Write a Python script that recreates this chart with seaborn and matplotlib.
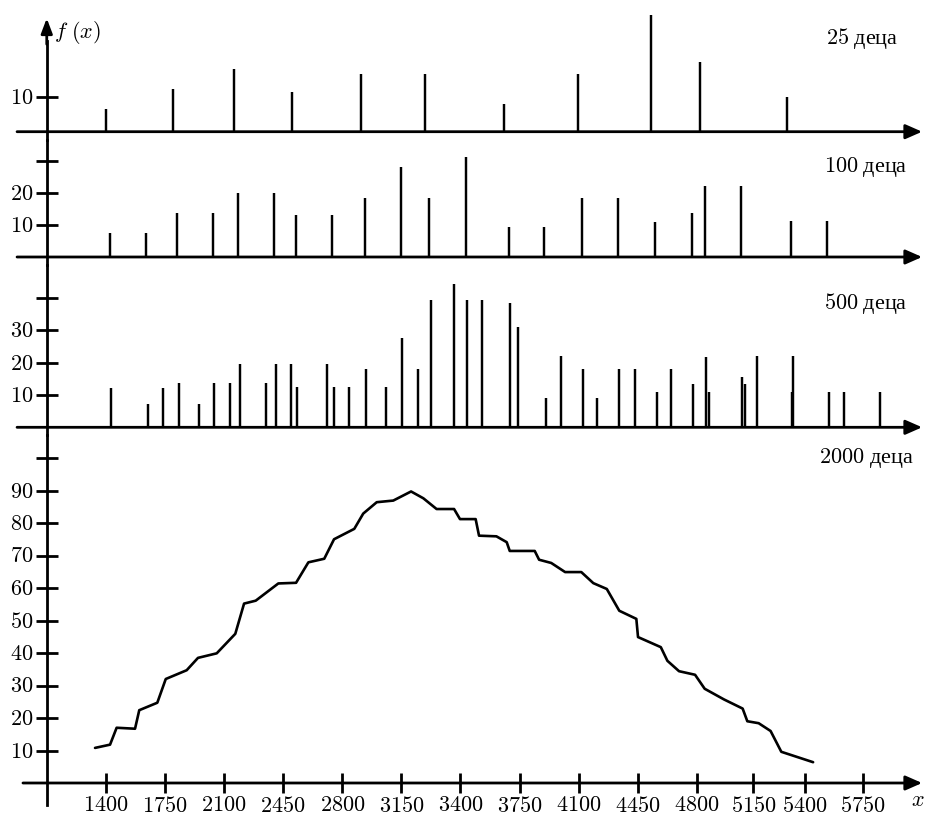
import numpy as np
import pandas as pd
import matplotlib
matplotlib.use("Agg")
import matplotlib.pyplot as plt
import seaborn as sns

# ---------------------------------------------------------------- data
# 25 children
x_25 = [1400, 1795, 2160, 2500, 2910, 3250, 3660, 4095, 4530, 4820, 5315]
f_25 = [6.4, 12.2, 17.8, 11.3, 16.5, 16.5, 8.0, 16.5, 33.3, 20.0, 9.8]

# 100 children
x_100 = [1424, 1637, 1821, 2034, 2184, 2397, 2528, 2741, 2933, 3146, 3269,
         3433, 3686, 3897, 4120, 4332, 4553, 4770, 4849, 5073, 5334, 5536]
f_100 = [7.4, 7.4, 13.9, 13.9, 20.1, 20.1, 13.0, 13.0, 18.5, 28.0, 18.5,
         31.3, 9.3, 9.3, 18.5, 18.5, 11.0, 13.6, 22.3, 22.3, 11.3, 11.3]

# 500 children
x_500 = [1431, 1647, 1736, 1831, 1951, 2042, 2135, 2192, 2348, 2405, 2496,
         2533, 2709, 2749, 2842, 2942, 3057, 3154, 3219, 3276, 3371, 3439,
         3530, 3694, 3743, 3907, 3998, 4128, 4211, 4341, 4433, 4563, 4648,
         4776, 4857, 4876, 5080, 5097, 5170, 5339, 5344, 5546, 5637, 5853]
f_500 = [12.1, 7.3, 12.1, 13.6, 7.3, 13.6, 13.6, 19.7, 13.6, 19.7, 19.7,
         12.6, 19.7, 12.6, 12.6, 18.2, 12.6, 27.6, 18.2, 39.5, 44.5, 39.5,
         39.5, 38.6, 31.0, 9.1, 22.1, 18.2, 9.1, 18.2, 18.2, 10.8, 18.2,
         13.3, 21.9, 10.8, 15.5, 13.3, 22.1, 11.0, 22.1, 11.0, 11.0, 11.0]

# 2000 children
x_2000 = [1335, 1424, 1463, 1572, 1597, 1704, 1754, 1878, 1945, 2056, 2166,
          2218, 2287, 2421, 2526, 2599, 2693, 2751, 2871, 2924, 3004, 3102,
          3191, 3243, 3299, 3373, 3398, 3490, 3510, 3613, 3674, 3692, 3840,
          3866, 3938, 4020, 4116, 4187, 4267, 4341, 4442, 4452, 4587, 4626,
          4695, 4790, 4849, 4969, 5084, 5113, 5176, 5234, 5286, 5450]
f_2000 = [10.8, 11.8, 17.0, 16.7, 22.4, 24.7, 32.0, 34.7, 38.5, 39.9, 45.9,
          55.2, 56.1, 61.4, 61.6, 67.9, 69.0, 75.0, 78.2, 82.9, 86.4, 86.9,
          89.7, 87.6, 84.3, 84.3, 81.2, 81.2, 76.1, 75.9, 74.1, 71.4, 71.4,
          68.7, 67.7, 64.9, 64.9, 61.5, 59.7, 53.0, 50.5, 44.9, 41.8, 37.6,
          34.4, 33.3, 29.0, 25.7, 22.9, 19.0, 18.4, 16.0, 9.6, 6.4]

x_ticks = [1400, 1750, 2100, 2450, 2800, 3150, 3400, 3750, 4100, 4450,
           4800, 5150, 5400, 5750]

panel_titles = ["25 деца", "100 деца", "500 деца", "2000 деца"]

# ------------------------------------------------------- axis geometry
# The printed x labels sit at (almost) even steps even though their values
# do not, so the horizontal scale is piecewise linear between them.
tick_slots = [1400, 1750, 2100, 2450, 2800, 3150, 3500, 3850, 4200, 4550,
              4900, 5235, 5540, 5885]
_lab = np.array([-1e4] + x_ticks + [2e4], float)
_pos = np.array([-1e4] + tick_slots + [2e4 + 135], float)


def fwd(v):
    return np.interp(v, _lab, _pos)


def inv(v):
    return np.interp(v, _pos, _lab)


sns.set_style("white", rc={"axes.edgecolor": "black", "text.color": "black",
                           "xtick.color": "black", "ytick.color": "black"})
plt.rcParams["mathtext.fontset"] = "cm"
plt.rcParams["font.family"] = ["Liberation Serif", "DejaVu Serif"]

W, H = 928, 819
FS = 16
LW_AX = 2.0
fig = plt.figure(figsize=(W / 100, H / 100), dpi=100)

# band top, band bottom, baseline (pixels from top), pixels per unit
layout = [
    (0, 140, 131.7, 3.5),
    (140, 265, 257.0, 3.2),
    (265, 435, 427.3, 3.23),
    (435, 819, 783.0, 3.25),
]
yticks = [[10], [10, 20, 30], [10, 20, 30, 40],
          [10, 20, 30, 40, 50, 60, 70, 80, 90, 100]]
ylabelled = [[10], [10, 20], [10, 20, 30],
             [10, 20, 30, 40, 50, 60, 70, 80, 90]]
title_pos = [(5747, 26.5), (5768, 28.0), (5768, 38.2), (5768, 100.0)]

X_LEFT, X_RIGHT = 772, 6135      # figure edges in axis units
Y_AXIS = 1049                    # where the vertical axis crosses
AX_START, AX_TIP = 873, 6100     # horizontal axis line extent

axes = []
for i, (top, bot, base, ppu) in enumerate(layout):
    ax = fig.add_axes([0, 1 - bot / H, 1, (bot - top) / H])
    ax.patch.set_alpha(0)
    ax.set_xscale("function", functions=(fwd, inv))
    lo, hi = -(bot - base) / ppu, (base - top) / ppu
    axes.append((ax, lo, hi))

spike_sets = [(x_25, f_25), (x_100, f_100), (x_500, f_500)]
for (ax, lo, hi), (xs, fs) in zip(axes[:3], spike_sets):
    ax.vlines(xs, 0, fs, color="black", lw=1.75)

ax4 = axes[3][0]
curve = pd.DataFrame({"x": x_2000, "f": f_2000})
sns.lineplot(data=curve, x="x", y="f", ax=ax4, color="black", lw=1.9,
             estimator=None, sort=False)
ax4.lines[-1].set_solid_joinstyle("round")
ax4.set_xlabel("")
ax4.set_ylabel("")

for i, (ax, lo, hi) in enumerate(axes):
    ax.set_xlim(X_LEFT, X_RIGHT)
    ax.set_ylim(lo, hi)
    for s in ("top", "right", "bottom"):
        ax.spines[s].set_visible(False)
    sp = ax.spines["left"]
    sp.set_position(("data", Y_AXIS))
    sp.set_linewidth(LW_AX)
    sp.set_color("black")
    if i == 0:
        sp.set_bounds(lo, 26)
    elif i == 3:
        sp.set_bounds(-6.8, hi)
    else:
        sp.set_bounds(lo, hi)
    ax.yaxis.set_ticks_position("left")
    ax.set_yticks(yticks[i],
                  [f"${t}$" if t in ylabelled[i] else "" for t in yticks[i]])
    ax.tick_params(axis="y", direction="inout", length=15.8, width=LW_AX,
                   pad=1.5, labelsize=FS)

    # horizontal axis with arrow head
    ax.annotate("", xy=(AX_TIP, 0), xytext=(AX_START if i < 3 else 908, 0),
                arrowprops=dict(arrowstyle="-|>,head_length=0.5,head_width=0.22",
                                mutation_scale=20, lw=LW_AX, color="black",
                                shrinkA=0, shrinkB=0))

    tx, ty = title_pos[i]
    num, word = panel_titles[i].split(" ", 1)
    ax.text(tx, ty, f"${num}$ {word}", ha="center", va="center", fontsize=FS)

    if i < 3:
        ax.set_xticks([])

# vertical axis arrow head and its label
ax1, lo1, hi1 = axes[0]
ax1.annotate("", xy=(Y_AXIS, 32.4), xytext=(Y_AXIS, 25),
             arrowprops=dict(arrowstyle="-|>,head_length=0.45,head_width=0.17",
                             mutation_scale=20, lw=LW_AX, color="black",
                             shrinkA=0, shrinkB=0))
ax1.text(1094, 28.2, r"$f\ (x)$", ha="left", va="center", fontsize=FS)

# x ticks on the bottom axis
ax4.spines["bottom"].set_position(("data", 0))
ax4.xaxis.set_ticks_position("bottom")
ax4.set_xticks(x_ticks, [f"${t}$" for t in x_ticks])
ax4.tick_params(axis="x", direction="inout", length=14.4, width=LW_AX,
                pad=3, labelsize=FS)
ax4.text(6076, -5.6, r"$x$", ha="center", va="center", fontsize=FS)

fig.savefig("out.png", dpi=100)
